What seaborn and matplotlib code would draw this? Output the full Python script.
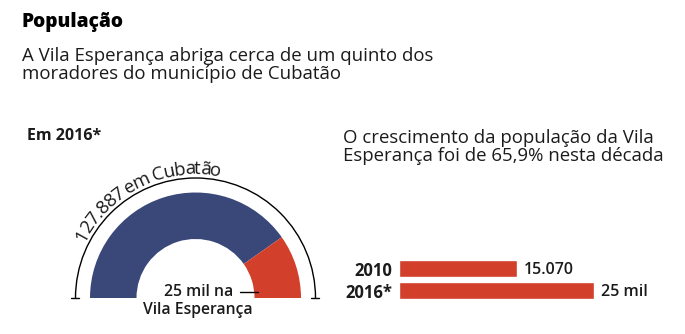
import numpy as np
import pandas as pd
import matplotlib
matplotlib.use("Agg")
import matplotlib.pyplot as plt
import seaborn as sns
from matplotlib.patches import Arc
from matplotlib.font_manager import FontProperties, findfont, get_font

# ---- data ----
total_cubatao = 127887
vila_2016 = 25000
years = ["2010", "2016*"]
pop_values = [15070, 25000]
value_labels = ["15.070", "25 mil"]

title = "População"
subtitle = "A Vila Esperança abriga cerca de um quinto dos\nmoradores do município de Cubatão"
left_head = "Em 2016*"
right_head = "O crescimento da população da Vila\nEsperança foi de 65,9% nesta década"
arc_label = "127.887 em Cubatão"
vila_label1 = "25 mil na"
vila_label2 = "Vila Esperança"

BLUE = "#3a4879"
RED = "#d23f2b"
INK = "#1b1b1b"
FONT = "Open Sans"

sns.set_theme(style="white")
plt.rcParams["font.family"] = [FONT, "DejaVu Sans"]
plt.rcParams["text.color"] = INK

W, H = 685, 334
fig = plt.figure(figsize=(W / 100, H / 100), dpi=100)
ax = fig.add_axes([0, 0, 1, 1])

def py(y):  # pixel-from-top to data y
    return H - y

# ---- gauge (pie) ----
cx, cy = 195.5, py(298)
r_out, r_in = 105.5, 59
ax.pie([total_cubatao - vila_2016, vila_2016, total_cubatao],
       colors=[BLUE, RED, "none"], startangle=180, counterclock=False,
       center=(cx, cy), radius=r_out,
       wedgeprops=dict(width=r_out - r_in, linewidth=0))
ax.set_xlim(0, W)
ax.set_ylim(0, H)
ax.set_aspect("equal")
ax.axis("off")

# Titles (va=baseline aligns the last line's baseline)
ax.text(22, py(27), title, fontsize=13.8, fontweight="heavy", va="baseline", ha="left", color="black")
ax.text(22, py(79), subtitle, fontsize=13.4, va="baseline", ha="left", linespacing=1.03)
ax.text(27, py(140), left_head, fontsize=11.5, fontweight="bold", va="baseline", ha="left")
ax.text(343, py(161), right_head, fontsize=13.4, va="baseline", ha="left", linespacing=1.03)

# outer arc bracket
r_arc = 120
ax.add_patch(Arc((cx, cy), 2 * r_arc, 2 * r_arc, theta1=0, theta2=180, color="black", lw=1.0))
for sx in (-1, 1):
    ax.plot([cx + sx * r_arc - 4, cx + sx * r_arc + 4], [cy, cy], color="black", lw=1.0)

# curved label (advance widths from the font, slightly tightened)
fsize = 13.4
track = 0.9
fp = FontProperties(family=FONT, size=fsize)
ft = get_font(findfont(fp))
ft.set_size(fsize, 100)
adv = []
for ch in arc_label:
    g = ft.load_char(ord(ch))
    adv.append(g.linearHoriAdvance / 65536.0 * track)
adv = np.array(adv)
total_w = adv.sum()
starts = np.concatenate([[0], np.cumsum(adv)[:-1]])
r_txt = 124
theta_c = np.deg2rad(116.0)
for ch, s0, a in zip(arc_label, starts, adv):
    s = s0 + a / 2 - total_w / 2
    th = theta_c - s / r_txt
    ax.text(cx + r_txt * np.cos(th), cy + r_txt * np.sin(th), ch, fontproperties=fp,
            rotation=np.rad2deg(th) - 90, rotation_mode="anchor", ha="center", va="baseline")

# inner label + leader
ax.text(199, py(292), vila_label1, fontsize=11.3, fontweight="semibold", ha="center", va="center")
ax.text(198, py(310), vila_label2, fontsize=11.3, fontweight="semibold", ha="center", va="center")
ax.plot([240, 258], [py(292), py(292)], color="black", lw=1.0)

# ---- bar chart ----
bx0, bx1 = 399, 649
by_top, by_bot = 250, 310
bax = fig.add_axes([bx0 / W, (H - by_bot) / H, (bx1 - bx0) / W, (by_bot - by_top) / H])
df = pd.DataFrame({"ano": years, "pop": pop_values})
sns.barplot(data=df, x="pop", y="ano", orient="h", color=RED, saturation=1,
            width=17 / 22, ax=bax)
bax.set_xlim(0, 25000 * (bx1 - bx0) / 195)
bax.set_ylim(1 + (by_bot - 290.5) / 22, -(268.5 - by_top) / 22)
bax.set_xlabel("")
bax.set_ylabel("")
bax.set_xticks([])
sns.despine(ax=bax, left=True, bottom=True)
bax.tick_params(axis="y", length=0, pad=5)
for lab in bax.get_yticklabels():
    lab.set_fontweight("bold")
    lab.set_fontsize(12)
    lab.set_color(INK)
bax.patch.set_alpha(0)
vlabels = bax.bar_label(bax.containers[0], labels=value_labels, padding=5, fontsize=11.5,
                        fontweight="semibold", color=INK)
for t in vlabels:
    t.set_va("center_baseline")

fig.savefig("out.png", dpi=100)
